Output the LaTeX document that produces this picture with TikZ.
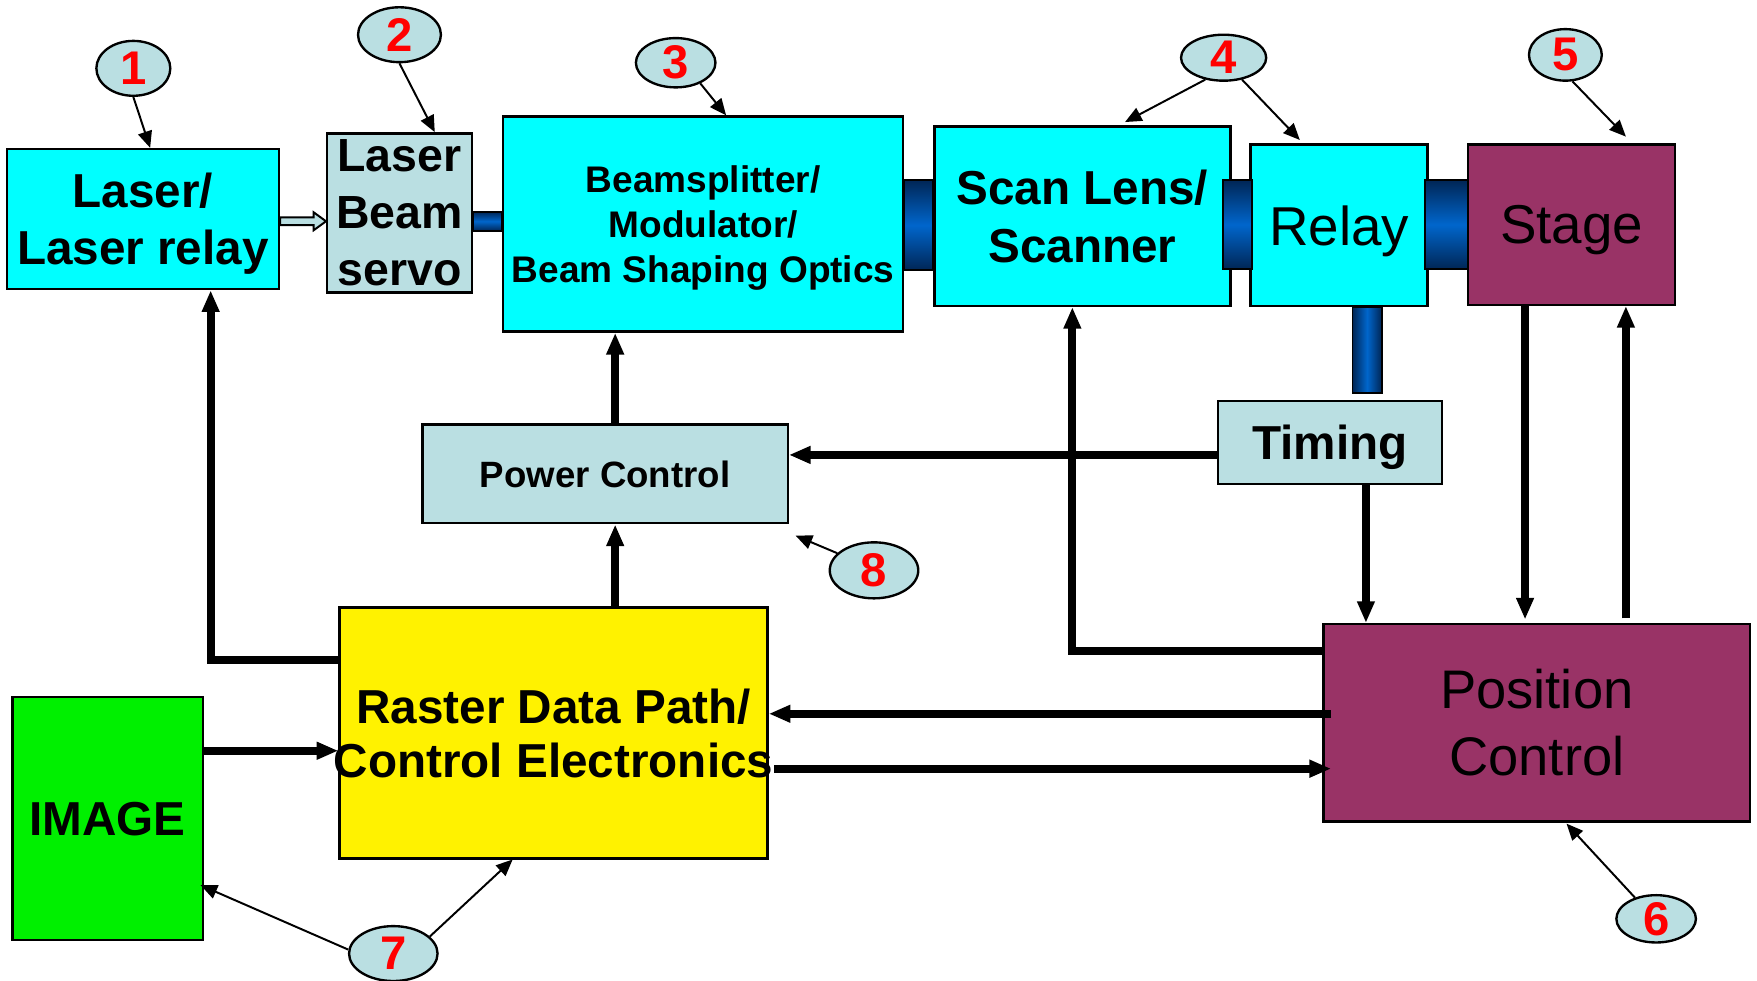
\documentclass[tikz,border=0pt]{standalone}
\usepackage{fontspec}
\setmainfont{Liberation Sans}
\usetikzlibrary{shapes.geometric,arrows.meta,calc}
\definecolor{cyanbox}{RGB}{0,255,255}
\definecolor{lightbox}{RGB}{186,223,226}
\definecolor{maroonbox}{RGB}{153,51,102}
\definecolor{imggreen}{RGB}{0,240,0}
\definecolor{conndark}{RGB}{0,38,86}
\definecolor{connlight}{RGB}{0,102,204}
\begin{document}
\begin{tikzpicture}[x=0.1mm,y=-0.1mm,
 box/.style={draw=black, line width=0.6pt, align=center, inner sep=0pt, text depth=0pt},
 bigbold/.style={font=\fontsize{12.1}{14.4}\selectfont\bfseries},
 bigreg/.style={font=\fontsize{13.9}{17}\selectfont},
 smallbold/.style={font=\fontsize{9.4}{11.4}\selectfont\bfseries},
 thickarrow/.style={line width=2pt, -{Triangle[width=4.2pt,length=5.5pt]}},
 thinarrow/.style={line width=0.5pt, -{Triangle[width=3.6pt,length=4.2pt]}},
 num/.style={ellipse, draw=black, line width=0.6pt, fill=lightbox, inner sep=0pt, text=red, font=\fontsize{12}{14}\selectfont\bfseries},
 hconn/.style={draw=black, line width=0.5pt, top color=conndark, bottom color=conndark, middle color=connlight},
 vconn/.style={draw=black, line width=0.5pt, left color=conndark, right color=conndark, middle color=connlight},
 hollow/.style={draw=black, line width=0.5pt, fill=lightbox},
]
\useasboundingbox (0,0) rectangle (1568,875);

% boxes
\node[box, fill=cyanbox, minimum width=24.3mm, minimum height=12.5mm, bigbold] (laser) at (127.5,195.5) {Laser/\\Laser relay};
\node[box, fill=lightbox, minimum width=12.9mm, minimum height=14.2mm, font=\fontsize{11.8}{14.5}\selectfont\bfseries] (servo) at (356.5,190) {Laser\\Beam\\servo};
\node[box, fill=cyanbox, minimum width=35.7mm, minimum height=19.2mm, smallbold] (bs) at (627.5,200) {Beamsplitter/\\Modulator/\\Beam Shaping Optics};
\node[box, fill=cyanbox, minimum width=26.4mm, minimum height=16mm, font=\fontsize{12.1}{14.8}\selectfont\bfseries] (scan) at (966,193) {Scan Lens/\\Scanner};
\node[box, fill=cyanbox, minimum width=15.8mm, minimum height=14.4mm, bigreg] (relay) at (1195,201) {Relay};
\node[box, fill=maroonbox, minimum width=18.5mm, minimum height=14.3mm, bigreg] (stage) at (1402.5,200.5) {Stage};
\node[box, fill=lightbox, minimum width=20mm, minimum height=7.4mm, bigbold] (timing) at (1187,395) {Timing};
\node[box, fill=lightbox, minimum width=32.6mm, minimum height=8.8mm, font=\fontsize{9.3}{11}\selectfont\bfseries] (power) at (540,423) {Power Control};
\node[box, fill=yellow, minimum width=38.2mm, minimum height=22.4mm, font=\fontsize{12.1}{13.7}\selectfont\bfseries] (raster) at (494,654) {Raster Data Path/\\\makebox[0pt]{Control Electronics}};
\node[box, fill=imggreen, minimum width=17mm, minimum height=21.7mm, bigbold] (image) at (96,730.5) {IMAGE};
\node[box, fill=maroonbox, minimum width=38.1mm, minimum height=17.6mm, font=\fontsize{13.8}{17}\selectfont] (pos) at (1371.5,645) {Position\\Control};

% optical connectors
\shade[hconn] ($(servo.east)+(0,-1)$) rectangle ($(bs.west)+(0,6)$);
\shade[hconn] ($(bs.east)+(0,-39)$) rectangle ($(scan.west)+(0,48)$);
\shade[hconn] ($(scan.east)+(-8,-32)$) rectangle ($(relay.west)+(2,39)$);
\shade[hconn] ($(relay.east)+(-3,-40)$) rectangle ($(stage.west)+(1,39.5)$);
\shade[vconn] ($(relay.south)+(12,0)$) rectangle ($(timing.north)+(46,-6)$);

% hollow arrow laser -> servo
\path ($(laser.east)+(0,2)$) coordinate (h0) (h0 -| servo.west) coordinate (h1);
\draw[hollow] ($(h0)+(0,-3.5)$) -- ($(h1)+(-11,-3.5)$) -- ($(h1)+(-11,-8)$) -- (h1) -- ($(h1)+(-11,8)$) -- ($(h1)+(-11,3.5)$) -- ($(h0)+(0,3.5)$) -- cycle;

% signal connectors
\draw[thickarrow] ($(raster.north west)+(0,48)$) -| ($(laser.south)+(60.5,0)$);
\draw[thickarrow] ($(power.north)+(9,0)$) coordinate (p1) -- (p1 |- bs.south);
\draw[thickarrow] ($(raster.north)+(55,0)$) coordinate (p2) -- (p2 |- power.south);
\draw[thickarrow] ($(timing.west)+(0,11)$) coordinate (p3) -- (p3 -| power.east);
\draw[thickarrow] ($(image.east)+(0,-60.5)$) coordinate (p4) -- (p4 -| raster.west);
\draw[thickarrow] ($(pos.north west)+(0,25)$) -| ($(scan.south)+(-9,0)$);
\path ($(raster.east)+(0,-17)$) coordinate (q5);
\draw[thickarrow] ($(q5 -| pos.west)+(8,0)$) -- (q5);
\draw[thickarrow] ($(raster.east)+(5,32)$) coordinate (p6) -- ($(p6 -| pos.west)+(8,0)$);
\draw[thickarrow] ($(timing.south)+(32,0)$) coordinate (p7) -- (p7 |- pos.north);
\draw[thickarrow] ($(stage.south)+(-41.5,0)$) coordinate (p8) -- ($(p8 |- pos.north)+(0,-3)$);
\path ($(stage.south)+(48.5,0)$) coordinate (p9);
\draw[thickarrow] ($(p9 |- pos.north)+(0,-4)$) -- (p9);

% numbered callouts
\node[num, minimum width=6.6mm, minimum height=4.9mm] (e1) at (119,61) {1};
\node[num, minimum width=7.4mm, minimum height=4.9mm] (e2) at (356.5,31) {2};
\node[num, minimum width=7.1mm, minimum height=4.4mm] (e3) at (603,56) {3};
\node[num, minimum width=7.6mm, minimum height=4.1mm] (e4) at (1092,51.5) {4};
\node[num, minimum width=6.5mm, minimum height=4.6mm] (e5) at (1397,49) {5};
\node[num, minimum width=7.1mm, minimum height=4.0mm] (e6) at (1478,820) {6};
\node[num, minimum width=7.9mm, minimum height=4.9mm] (e7) at (351,851) {7};
\node[num, minimum width=7.9mm, minimum height=5.0mm] (e8) at (780,509) {8};

\draw[thinarrow] (e1.south) -- ($(laser.north)+(6.5,0)$);
\draw[thinarrow] (e2.south) -- ($(servo.north)+(31.5,0)$);
\draw[thinarrow] (e3.-40) -- ($(bs.north)+(20.5,0)$);
\draw[thinarrow] (e4.-130) -- ($(scan.north)+(38,-3)$);
\draw[thinarrow] (e4.-50) -- ($(relay.north)+(-35,-3)$);
\draw[thinarrow] (e5.-75) -- ($(stage.north)+(48.5,-6)$);
\draw[thinarrow] (e6.135) -- ($(pos.south)+(26.5,1)$);
\draw[thinarrow] (e7.175) -- ($(image.east)+(-3,59.5)$);
\draw[thinarrow] (e7.25) -- ($(raster.south)+(-36.5,0)$);
\draw[thinarrow] (e8.155) -- ($(power.south east)+(6,10)$);
\end{tikzpicture}
\end{document}
